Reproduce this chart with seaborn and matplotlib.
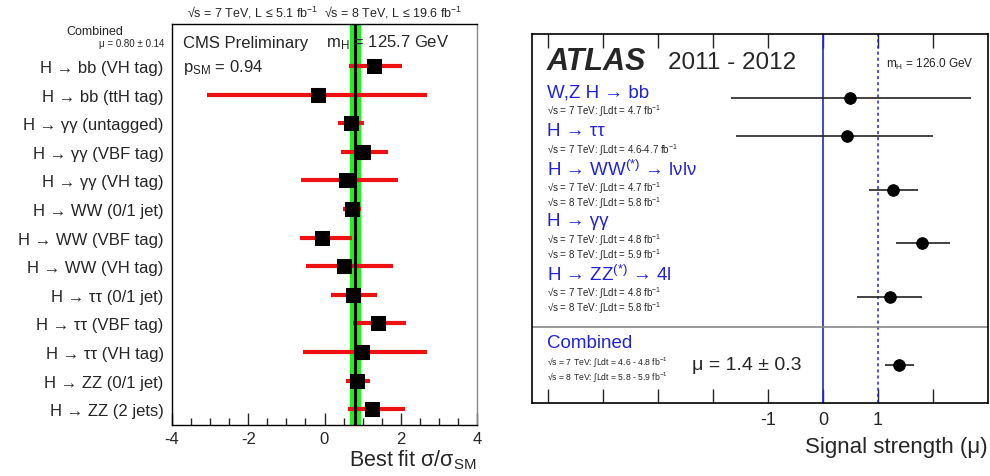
import pandas as pd
import seaborn as sns
import matplotlib.pyplot as plt
from matplotlib.ticker import MultipleLocator

sns.set_style('white')
plt.rcParams['font.family'] = ['Liberation Sans', 'DejaVu Sans']
plt.rcParams['mathtext.fontset'] = 'custom'
plt.rcParams['mathtext.rm'] = 'Liberation Sans'
plt.rcParams['mathtext.it'] = 'Liberation Sans:italic'
plt.rcParams['mathtext.default'] = 'regular'
plt.rcParams['axes.unicode_minus'] = False

# CMS: best fit sigma/sigma_SM per channel
cms_channels = ['H → bb (VH tag)', 'H → bb (ttH tag)', 'H → γγ (untagged)',
                'H → γγ (VBF tag)', 'H → γγ (VH tag)', 'H → WW (0/1 jet)',
                'H → WW (VBF tag)', 'H → WW (VH tag)', 'H → ττ (0/1 jet)',
                'H → ττ (VBF tag)', 'H → ττ (VH tag)', 'H → ZZ (0/1 jet)',
                'H → ZZ (2 jets)']
cms_mu = [1.30, -0.17, 0.69, 1.01, 0.56, 0.72, -0.07, 0.51, 0.75, 1.41, 0.98, 0.85, 1.24]
cms_lo = [0.64, -3.08, 0.36, 0.43, -0.62, 0.49, -0.64, -0.48, 0.17, 0.75, -0.56, 0.56, 0.61]
cms_hi = [2.03, 2.69, 1.04, 1.66, 1.94, 0.97, 0.72, 1.80, 1.38, 2.14, 2.69, 1.19, 2.11]
cms_comb = 0.80
cms_comb_err = 0.14

# ATLAS: signal strength per channel
atlas_channels = ['W,Z H → bb', 'H → ττ', 'H → WW$^{(*)}$ → lνlν', 'H → γγ',
                  'H → ZZ$^{(*)}$ → 4l', 'Combined']
atlas_lumi = [['√s = 7 TeV: ∫Ldt = 4.7 fb$^{-1}$'],
              ['√s = 7 TeV: ∫Ldt = 4.6-4.7 fb$^{-1}$'],
              ['√s = 7 TeV: ∫Ldt = 4.7 fb$^{-1}$', '√s = 8 TeV: ∫Ldt = 5.8 fb$^{-1}$'],
              ['√s = 7 TeV: ∫Ldt = 4.8 fb$^{-1}$', '√s = 8 TeV: ∫Ldt = 5.9 fb$^{-1}$'],
              ['√s = 7 TeV: ∫Ldt = 4.8 fb$^{-1}$', '√s = 8 TeV: ∫Ldt = 5.8 fb$^{-1}$'],
              ['√s = 7 TeV: ∫Ldt = 4.6 - 4.8 fb$^{-1}$', '√s = 8 TeV: ∫Ldt = 5.8 - 5.9 fb$^{-1}$']]
atlas_mu = [0.49, 0.44, 1.27, 1.80, 1.22, 1.38]
atlas_lo = [-1.67, -1.58, 0.84, 1.32, 0.62, 1.13]
atlas_hi = [2.69, 2.00, 1.73, 2.31, 1.80, 1.65]
# row layout (pixels below the top of the ATLAS frame)
atlas_rows = [64, 102, 156, 209, 263, 331]

W, H = 990, 477
fig = plt.figure(figsize=(9.9, 4.77), dpi=100)


def fx(px):
    return px / W


def fy(py):
    return 1 - py / H


# ---------------- CMS ----------------
cms = pd.DataFrame({'channel': cms_channels, 'mu': cms_mu, 'lo': cms_lo, 'hi': cms_hi})
ax1 = fig.add_axes([fx(172), fy(426), (477 - 172) / W, (426 - 25) / H])
ax1.axvspan(cms_comb - cms_comb_err, cms_comb + cms_comb_err, color='#22ee22', zorder=1)
ax1.hlines(range(len(cms)), cms['lo'], cms['hi'], color='#ee1111', lw=3, zorder=2)
ax1.axvline(cms_comb, color='black', lw=2.2, zorder=3)
sns.scatterplot(data=cms, x='mu', y='channel', marker='s', s=90, color='black',
                edgecolor='black', ax=ax1, zorder=4, legend=False)
ax1.set_xlim(-4, 4)
ax1.set_ylim(12.55, -1.47)
ax1.set_xlabel('')
ax1.set_ylabel('')
ax1.xaxis.set_major_locator(MultipleLocator(2))
ax1.xaxis.set_minor_locator(MultipleLocator(0.5))
ax1.tick_params(axis='x', which='major', direction='in', length=9, width=1, bottom=True,
                labelsize=12, pad=4)
ax1.tick_params(axis='x', which='minor', direction='in', length=5, width=1, bottom=True)
ax1.tick_params(axis='y', length=0, labelsize=12, pad=6)
for sp in ax1.spines.values():
    sp.set_color('black')
    sp.set_linewidth(1)
ax1.spines['right'].set_color('#888888')

ax1.text(0.036, 0.955, 'CMS Preliminary', transform=ax1.transAxes, fontsize=12, va='center')
ax1.text(0.505, 0.955, 'm$_{H}$ = 125.7 GeV', transform=ax1.transAxes, fontsize=12, va='center')
ax1.text(0.036, 0.893, 'p$_{SM}$ = 0.94', transform=ax1.transAxes, fontsize=12, va='center')
fig.text(fx(325), fy(13), '√s = 7 TeV, L ≤ 5.1 fb$^{-1}$  √s = 8 TeV, L ≤ 19.6 fb$^{-1}$',
         ha='center', va='center', fontsize=9)
fig.text(fx(95), fy(32), 'Combined', ha='center', va='center', fontsize=9)
fig.text(fx(164), fy(44), 'μ = 0.80 ± 0.14', ha='right', va='center', fontsize=7)
fig.text(fx(477), fy(460), 'Best fit σ/σ$_{SM}$', ha='right', va='center', fontsize=15.5)

# ---------------- ATLAS ----------------
atlas = pd.DataFrame({'channel': atlas_channels, 'mu': atlas_mu, 'lo': atlas_lo,
                      'hi': atlas_hi, 'row': atlas_rows})
ax2 = fig.add_axes([fx(532), fy(404), (988 - 532) / W, (404 - 35) / H])
blue = '#2222dd'
ax2.axvline(0, color=blue, lw=1.2, zorder=1)
ax2.axvline(1, color=blue, lw=1.1, ls=(0, (2, 2)), zorder=1)
ax2.axhline(293, color='#888888', lw=1.2, zorder=1)
ax2.hlines(atlas['row'], atlas['lo'], atlas['hi'], color='#222222', lw=1.2, zorder=2)
sns.scatterplot(data=atlas, x='mu', y='row', marker='o', s=70, color='black',
                edgecolor='black', ax=ax2, zorder=3, legend=False)
ax2.set_xlim(-5.3, 3.0)
ax2.set_ylim(369, 0)
ax2.set_xlabel('')
ax2.set_ylabel('')
ax2.set_yticks([])
ax2.set_xticks([-5, -4, -3, -2, -1, 0, 1, 2])
ax2.set_xticklabels(['', '', '', '', '-1', '0', '1', ''])
ax2.tick_params(axis='x', direction='in', length=10, width=1, bottom=True, top=True,
                labelsize=13, pad=6)
for sp in ax2.spines.values():
    sp.set_color('black')
    sp.set_linewidth(1.2)

tr = ax2.get_yaxis_transform()
ax2.text(15 / 456, 27, 'ATLAS', transform=tr, fontsize=22,
         fontweight='bold', style='italic', va='center')
ax2.text(136 / 456, 28, '2011 - 2012', transform=tr, fontsize=17.5, va='center')
ax2.text(354 / 456, 29, 'm$_{H}$ = 126.0 GeV', transform=tr, fontsize=8.5, va='center')

label_rows = [58, 97, 135, 187, 240, 309]
for name, lumi, yl in zip(atlas_channels, atlas_lumi, label_rows):
    ax2.text(15 / 456, yl, name, transform=tr, fontsize=13.5, color=blue, va='center')
    fs = 6.2 if name == 'Combined' else 7
    for k, line in enumerate(lumi):
        ax2.text(15 / 456, yl + 18 + 15.5 * k, line, transform=tr, fontsize=fs, va='center')
ax2.text(160 / 456, 331, 'μ = 1.4 ± 0.3', transform=tr, fontsize=14, va='center')
fig.text(fx(988), fy(448), 'Signal strength (μ)', ha='right', va='center', fontsize=16)

fig.savefig('out.png', dpi=100)
